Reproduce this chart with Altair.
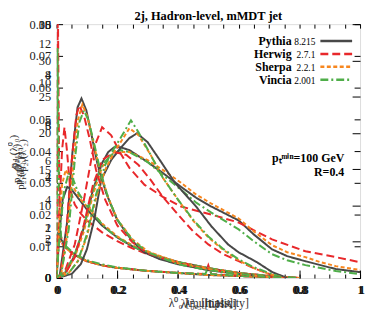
import altair as alt
import pandas as pd

GEN_NAMES = ["Pythia", "Herwig", "Sherpa", "Vincia"]
GEN_VERSIONS = ["8.215", "2.7.1", "2.2.1", "2.001"]
GENS = [f"{n} {v}" for n, v in zip(GEN_NAMES, GEN_VERSIONS)]
COLORS = ["#484848", "#e8282b", "#f7861e", "#4fae49"]
DASHES = [[1, 0], [8, 4], [4, 2.5], [8, 3, 2, 3]]

# family 1: narrow peak near 0.08 (axis 0-35)
F1_PY_X = [0, 0.01, 0.036, 0.052, 0.069, 0.082, 0.098, 0.114, 0.134, 0.163, 0.199, 0.245, 0.288, 0.34, 0.4, 0.5, 0.6, 0.7, 0.75]
F1_PY_Y = [0, 0.27, 8.07, 17.23, 23.52, 24.75, 23.11, 19.96, 15.86, 11.76, 8.07, 5.33, 3.55, 2.60, 1.91, 1.09, 0.55, 0.14, 0]
F1_HW_X = [0, 0.01, 0.03, 0.05, 0.065, 0.075, 0.09, 0.11, 0.13, 0.16, 0.2, 0.25, 0.3, 0.4, 0.5, 0.6, 0.7, 0.75]
F1_HW_Y = [0, 0, 5.33, 16.27, 22.42, 23.79, 22.42, 19.00, 14.90, 10.80, 7.25, 4.92, 3.42, 2.05, 1.23, 0.55, 0.14, 0]
F1_SH_X = [0, 0.015, 0.035, 0.055, 0.07, 0.085, 0.1, 0.12, 0.14, 0.17, 0.2, 0.25, 0.3, 0.4, 0.5, 0.6, 0.7, 0.75]
F1_SH_Y = [0, 0.41, 6.02, 15.59, 21.74, 23.93, 22.42, 19.00, 15.18, 11.07, 8.07, 5.33, 3.69, 2.05, 1.23, 0.55, 0.14, 0]
F1_VI_X = [0, 0.015, 0.04, 0.06, 0.075, 0.09, 0.105, 0.125, 0.145, 0.17, 0.2, 0.25, 0.3, 0.4, 0.5, 0.6, 0.7, 0.75]
F1_VI_Y = [0, 0.55, 6.70, 16.27, 21.47, 23.11, 21.74, 18.32, 14.63, 11.07, 8.07, 5.20, 3.55, 1.91, 1.09, 0.55, 0.14, 0]

# family 2: early peak near 0.03 (axis 0-10)
F2_PY_X = [0, 0.01, 0.02, 0.035, 0.05, 0.075, 0.1, 0.15, 0.2, 0.25, 0.3, 0.4, 0.5, 0.6, 0.7, 0.8]
F2_PY_Y = [0, 1.91, 3.09, 3.59, 3.48, 3.09, 2.70, 2.07, 1.60, 1.25, 0.98, 0.63, 0.39, 0.20, 0.08, 0]
F2_HW_X = [0, 0.008, 0.018, 0.026, 0.034, 0.045, 0.06, 0.08, 0.1, 0.15, 0.2, 0.25, 0.3, 0.4, 0.5, 0.6, 0.7, 0.8]
F2_HW_Y = [0, 2.30, 5.04, 5.94, 5.04, 3.48, 2.89, 2.54, 2.27, 1.80, 1.45, 1.17, 0.94, 0.63, 0.39, 0.20, 0.08, 0]
F2_SH_X = [0, 0.008, 0.018, 0.03, 0.045, 0.06, 0.08, 0.1, 0.15, 0.2, 0.25, 0.3, 0.4, 0.5, 0.6, 0.7, 0.8]
F2_SH_Y = [0, 1.91, 3.67, 4.26, 3.95, 3.48, 3.09, 2.81, 2.15, 1.64, 1.29, 1.02, 0.63, 0.39, 0.20, 0.08, 0]
F2_VI_X = [0, 0.01, 0.025, 0.04, 0.055, 0.07, 0.09, 0.12, 0.16, 0.2, 0.25, 0.3, 0.4, 0.5, 0.6, 0.7, 0.8]
F2_VI_Y = [0, 1.72, 3.48, 4.14, 3.87, 3.40, 3.01, 2.54, 1.99, 1.60, 1.25, 0.98, 0.63, 0.39, 0.20, 0.08, 0]

# family 3: peak near 0.25, ends near 0.76 (axis 0-0.08)
F3_PY_X = [0, 0.05, 0.08, 0.1, 0.124, 0.147, 0.18, 0.21, 0.24, 0.265, 0.3, 0.34, 0.39, 0.46, 0.51, 0.565, 0.6, 0.66, 0.71, 0.76]
F3_PY_Y = [0, 0.0013, 0.0044, 0.0091, 0.0184, 0.0309, 0.0372, 0.0409, 0.0441, 0.0456, 0.0428, 0.0372, 0.0300, 0.0225, 0.0163, 0.0106, 0.0081, 0.0050, 0.0019, 0]
F3_HW_X = [0, 0.03, 0.06, 0.09, 0.12, 0.15, 0.19, 0.23, 0.27, 0.31, 0.35, 0.4, 0.45, 0.5, 0.55, 0.6, 0.65, 0.7, 0.74]
F3_HW_Y = [0, 0.0016, 0.0066, 0.0169, 0.0294, 0.0372, 0.0397, 0.0388, 0.0356, 0.0309, 0.0256, 0.0200, 0.0147, 0.0106, 0.0075, 0.0053, 0.0031, 0.0013, 0]
F3_SH_X = [0, 0.04, 0.07, 0.1, 0.13, 0.16, 0.19, 0.215, 0.24, 0.27, 0.31, 0.35, 0.4, 0.45, 0.5, 0.55, 0.6, 0.65, 0.7, 0.75]
F3_SH_Y = [0, 0.0016, 0.0053, 0.0131, 0.0253, 0.0341, 0.0397, 0.0434, 0.0472, 0.0450, 0.0388, 0.0316, 0.0247, 0.0181, 0.0128, 0.0088, 0.0056, 0.0031, 0.0013, 0]
F3_VI_X = [0, 0.04, 0.07, 0.1, 0.13, 0.16, 0.19, 0.22, 0.245, 0.27, 0.31, 0.35, 0.4, 0.45, 0.5, 0.55, 0.6, 0.65, 0.7, 0.75]
F3_VI_Y = [0, 0.0016, 0.0053, 0.0138, 0.0263, 0.0356, 0.0409, 0.0456, 0.0497, 0.0459, 0.0388, 0.0316, 0.0247, 0.0184, 0.0131, 0.0091, 0.0059, 0.0034, 0.0016, 0]

# family 4: broad plateau near 0.2, long tail to 1 (axis 0-13)
F4_PY_X = [0, 0.03, 0.06, 0.09, 0.12, 0.15, 0.17, 0.19, 0.21, 0.24, 0.3, 0.35, 0.41, 0.46, 0.51, 0.6, 0.65, 0.71, 0.76, 0.82, 0.87, 0.92, 1.0]
F4_PY_Y = [0, 0.30, 1.17, 2.59, 4.52, 5.89, 6.45, 6.70, 6.70, 6.55, 5.94, 5.38, 4.67, 4.11, 3.66, 2.95, 2.23, 1.47, 1.12, 0.86, 0.66, 0.46, 0.30]
F4_HW_X = [0, 0.03, 0.06, 0.09, 0.12, 0.15, 0.18, 0.21, 0.24, 0.29, 0.35, 0.41, 0.51, 0.6, 0.71, 0.82, 0.92, 1.0]
F4_HW_Y = [0, 0.46, 1.73, 4.01, 6.55, 7.72, 7.31, 6.40, 5.64, 4.77, 4.16, 3.66, 3.25, 2.84, 1.98, 1.37, 1.07, 0.81]
F4_SH_X = [0, 0.03, 0.06, 0.09, 0.12, 0.15, 0.18, 0.21, 0.24, 0.3, 0.35, 0.41, 0.46, 0.51, 0.6, 0.65, 0.71, 0.76, 0.82, 0.87, 0.92, 1.0]
F4_SH_Y = [0, 0.30, 1.07, 2.39, 4.27, 5.69, 6.30, 6.45, 6.45, 6.04, 5.54, 4.88, 4.27, 3.81, 3.05, 2.39, 1.68, 1.32, 1.07, 0.81, 0.61, 0.41]
F4_VI_X = [0, 0.03, 0.06, 0.09, 0.12, 0.15, 0.18, 0.21, 0.24, 0.3, 0.35, 0.41, 0.46, 0.51, 0.6, 0.65, 0.71, 0.76, 0.82, 0.87, 0.92, 1.0]
F4_VI_Y = [0, 0.36, 1.22, 2.64, 4.52, 5.79, 6.30, 6.55, 6.45, 5.94, 5.28, 4.52, 3.86, 3.35, 2.49, 1.88, 1.22, 0.91, 0.66, 0.51, 0.36, 0.20]

# family 5: low, falling from 0 (axis 0-5)
F5_PY_X = [0, 0.005, 0.015, 0.03, 0.06, 0.1, 0.15, 0.2, 0.3, 0.4, 0.5, 0.6, 0.7, 0.8]
F5_PY_Y = [0, 0.86, 0.76, 0.61, 0.45, 0.33, 0.25, 0.20, 0.14, 0.10, 0.06, 0.04, 0.02, 0]
F5_HW_X = [0, 0.004, 0.01, 0.02, 0.04, 0.07, 0.1, 0.15, 0.2, 0.3, 0.4, 0.49, 0.5, 0.51, 0.6, 0.7, 0.8]
F5_HW_Y = [0, 5.5, 0.96, 0.66, 0.53, 0.41, 0.33, 0.25, 0.20, 0.14, 0.10, 0.08, 0.25, 0.08, 0.04, 0.02, 0]
F5_SH_X = [0, 0.005, 0.015, 0.03, 0.06, 0.1, 0.15, 0.2, 0.3, 0.4, 0.5, 0.6, 0.7, 0.8]
F5_SH_Y = [0, 0.76, 0.70, 0.59, 0.45, 0.33, 0.25, 0.20, 0.14, 0.10, 0.06, 0.04, 0.02, 0]
F5_VI_X = [0, 0.003, 0.008, 0.015, 0.03, 0.06, 0.1, 0.15, 0.2, 0.3, 0.4, 0.49, 0.5, 0.51, 0.6, 0.7, 0.8]
F5_VI_Y = [0, 4.53, 1.54, 0.80, 0.63, 0.47, 0.35, 0.27, 0.21, 0.14, 0.10, 0.08, 0.21, 0.08, 0.04, 0.02, 0]

X_LABELS = [0, 0.2, 0.4, 0.6, 0.8, 1.0]
X_MINOR = [0, 0.05, 0.1, 0.15, 0.2, 0.25, 0.3, 0.35, 0.4, 0.45, 0.5, 0.55, 0.6, 0.65, 0.7, 0.75, 0.8, 0.85, 0.9, 0.95, 1.0]
YA_TICKS = [0, 0.01, 0.02, 0.03, 0.04, 0.05, 0.06, 0.07, 0.08]
YB_TICKS = [0, 5, 10, 15, 20, 25, 30, 35]
YC_TICKS = [0, 2, 4, 6, 8, 10, 12]
YD_TICKS = [0, 2, 4, 6, 8, 10]
YE_TICKS = [0, 1, 2, 3, 4, 5]

ANNOT_TEXT = ["pₜᵐⁱⁿ=100 GeV", "R=0.4"]
ANNOT_X = [0.948, 0.948]
ANNOT_Y = [0.0378, 0.0334]

SERIF = "Liberation Serif"


def fam_df(xs_list, ys_list):
    rows = []
    for g, xs, ys in zip(GENS, xs_list, ys_list):
        for i, (x, y) in enumerate(zip(xs, ys)):
            rows.append({"x": x, "y": y, "gen": g, "i": i})
    return pd.DataFrame(rows)


df1 = fam_df([F1_PY_X, F1_HW_X, F1_SH_X, F1_VI_X], [F1_PY_Y, F1_HW_Y, F1_SH_Y, F1_VI_Y])
df2 = fam_df([F2_PY_X, F2_HW_X, F2_SH_X, F2_VI_X], [F2_PY_Y, F2_HW_Y, F2_SH_Y, F2_VI_Y])
df3 = fam_df([F3_PY_X, F3_HW_X, F3_SH_X, F3_VI_X], [F3_PY_Y, F3_HW_Y, F3_SH_Y, F3_VI_Y])
df4 = fam_df([F4_PY_X, F4_HW_X, F4_SH_X, F4_VI_X], [F4_PY_Y, F4_HW_Y, F4_SH_Y, F4_VI_Y])
df5 = fam_df([F5_PY_X, F5_HW_X, F5_SH_X, F5_VI_X], [F5_PY_Y, F5_HW_Y, F5_SH_Y, F5_VI_Y])
ann = pd.DataFrame({"t": ANNOT_TEXT, "x": ANNOT_X, "y": ANNOT_Y})
leg = pd.DataFrame({"gen": GENS, "name": GEN_NAMES, "version": GEN_VERSIONS})

color = alt.Color("gen:N", scale=alt.Scale(domain=GENS, range=COLORS), legend=None)
dash = alt.StrokeDash("gen:N", scale=alt.Scale(domain=GENS, range=DASHES), legend=None)


def xscale():
    return alt.Scale(domain=[0, 1], nice=False, zero=False)


def yscale(dom):
    return alt.Scale(domain=dom, nice=False, zero=False)


def ylab_axis(values, fmt, title, tx, ty):
    return alt.Axis(
        orient="left", values=values, format=fmt, title=title, titleX=tx, titleY=ty,
        titleFont=SERIF, titleFontSize=11, titleFontWeight="normal", titleColor="#333",
        labelFont=SERIF, labelFontSize=12.5, labelColor="#222", labelPadding=6,
        ticks=False, tickSize=0, domain=False, grid=False, labelFlush=False, labelOverlap=False,
    )


def xlab_axis(title, loff):
    return alt.Axis(
        orient="bottom", values=X_LABELS, format=".1~f", title=title,
        labelFont=SERIF, labelFontSize=12, labelFontWeight="bold", labelColor="#111",
        labelPadding=7, labelOffset=loff, ticks=False, tickSize=0, domain=False, grid=False,
        labelFlush=False, labelOverlap=False,
        titleFont=SERIF, titleFontSize=12, titleFontWeight="normal", titleColor="#333", titlePadding=2,
    )


def fam_layer(df, xaxis, ydom, yaxis):
    return alt.Chart(df).mark_line(strokeWidth=2, clip=True).encode(
        x=alt.X("x:Q", scale=xscale(), axis=xaxis),
        y=alt.Y("y:Q", scale=yscale(ydom), axis=yaxis),
        color=color, strokeDash=dash, order="i:Q",
    )


L5 = fam_layer(df5, None, [0, 5], ylab_axis(YE_TICKS, "d", "p₂₁(λ²₀)", -31, 150))
L2 = fam_layer(df2, alt.Axis(orient="bottom", labels=False, ticks=False, domain=False, grid=False,
                             title="λ¹₀.₅ [LHA]", titleFont=SERIF, titleFontSize=12,
                             titleFontWeight="normal", titleColor="#333", titlePadding=21),
               [0, 10], ylab_axis(YD_TICKS, "d", "p₂₁(λ¹₀.₅)", -35, 140))
L4 = fam_layer(df4, None, [0, 13], ylab_axis(YC_TICKS, "d", "p₂₁(λ¹₂)", -29, 132))
L3 = fam_layer(df3, xlab_axis("λ⁰₀ [multiplicity]", 0), [0, 0.08],
               ylab_axis(YA_TICKS, ".2~f", "p₂₁(λ⁰₀)", -38, 128))
L1 = fam_layer(df1, xlab_axis("λ²₀ [mass]", 1.5), [0, 35],
               ylab_axis(YB_TICKS, "d", "p₂₁(λ¹₁)", -33, 145))


def tick_axis(orient, values, offset, size):
    return alt.Axis(orient=orient, values=values, offset=offset, labels=False, domain=False,
                    grid=False, ticks=True, tickSize=size, tickColor="black", tickWidth=1, title=None)


T1 = alt.Chart(df3).mark_line(opacity=0).encode(
    x=alt.X("x:Q", scale=xscale(), axis=tick_axis("top", X_MINOR, -256, 4)),
    y=alt.Y("y:Q", scale=yscale([0, 0.08]), axis=tick_axis("right", YA_TICKS, -306, 6)),
)
T2 = alt.Chart(df3).mark_line(opacity=0).encode(
    x=alt.X("x:Q", scale=xscale(), axis=tick_axis("bottom", X_MINOR, -256, 4)),
    y=alt.Y("y:Q", scale=yscale([0, 0.08]), axis=tick_axis("left", YA_TICKS, -306, 6)),
)
T3 = alt.Chart(df1).mark_line(opacity=0).encode(
    x=alt.X("x:Q", scale=xscale(), axis=tick_axis("top", X_LABELS, -256, 8)),
    y=alt.Y("y:Q", scale=yscale([0, 35]), axis=tick_axis("left", YB_TICKS, -306, 8)),
)

LA = alt.Chart(ann).mark_text(align="right", baseline="middle", font=SERIF, fontSize=12,
                              fontWeight="bold", color="black").encode(
    x=alt.X("x:Q", scale=xscale(), axis=None),
    y=alt.Y("y:Q", scale=yscale([0, 0.08]), axis=None),
    text="t:N",
)

# legend: names and versions right-aligned, line samples to their right
leg_y = alt.Y("gen:N", scale=alt.Scale(type="point", domain=GENS, range=[17, 56], padding=0), axis=None)
LG_NAME = alt.Chart(leg).mark_text(align="right", baseline="middle", font=SERIF, fontSize=12,
                                   fontWeight="bold", color="black").encode(
    x=alt.value(237), y=leg_y, text="name:N")
LG_VER = alt.Chart(leg).mark_text(align="right", baseline="middle", font=SERIF, fontSize=9.5,
                                  color="black", dy=1).encode(
    x=alt.value(261), y=leg_y, text="version:N")
LG_LINE = alt.Chart(leg).mark_rule(strokeWidth=2.5).encode(
    x=alt.value(266), x2=alt.value(298), y=leg_y, color=color, strokeDash=dash)

chart = alt.layer(L5, L2, L4, L3, L1, T1, T2, T3, LA, LG_NAME, LG_VER, LG_LINE).resolve_scale(
    x="independent", y="independent"
).properties(
    width=306, height=256,
    title=alt.Title("2j, Hadron-level, mMDT jet", font=SERIF, fontSize=12.5, fontWeight="bold",
                    offset=6, dy=10, anchor="middle", frame="group", color="black"),
    autosize=alt.AutoSizeParams(type="none"),
    padding={"left": 49, "top": 15, "right": 6, "bottom": 37},
).configure_view(stroke="black", strokeWidth=1.5).configure(font=SERIF)

chart.save("out.html", embed_options={"renderer": "svg", "actions": False})
